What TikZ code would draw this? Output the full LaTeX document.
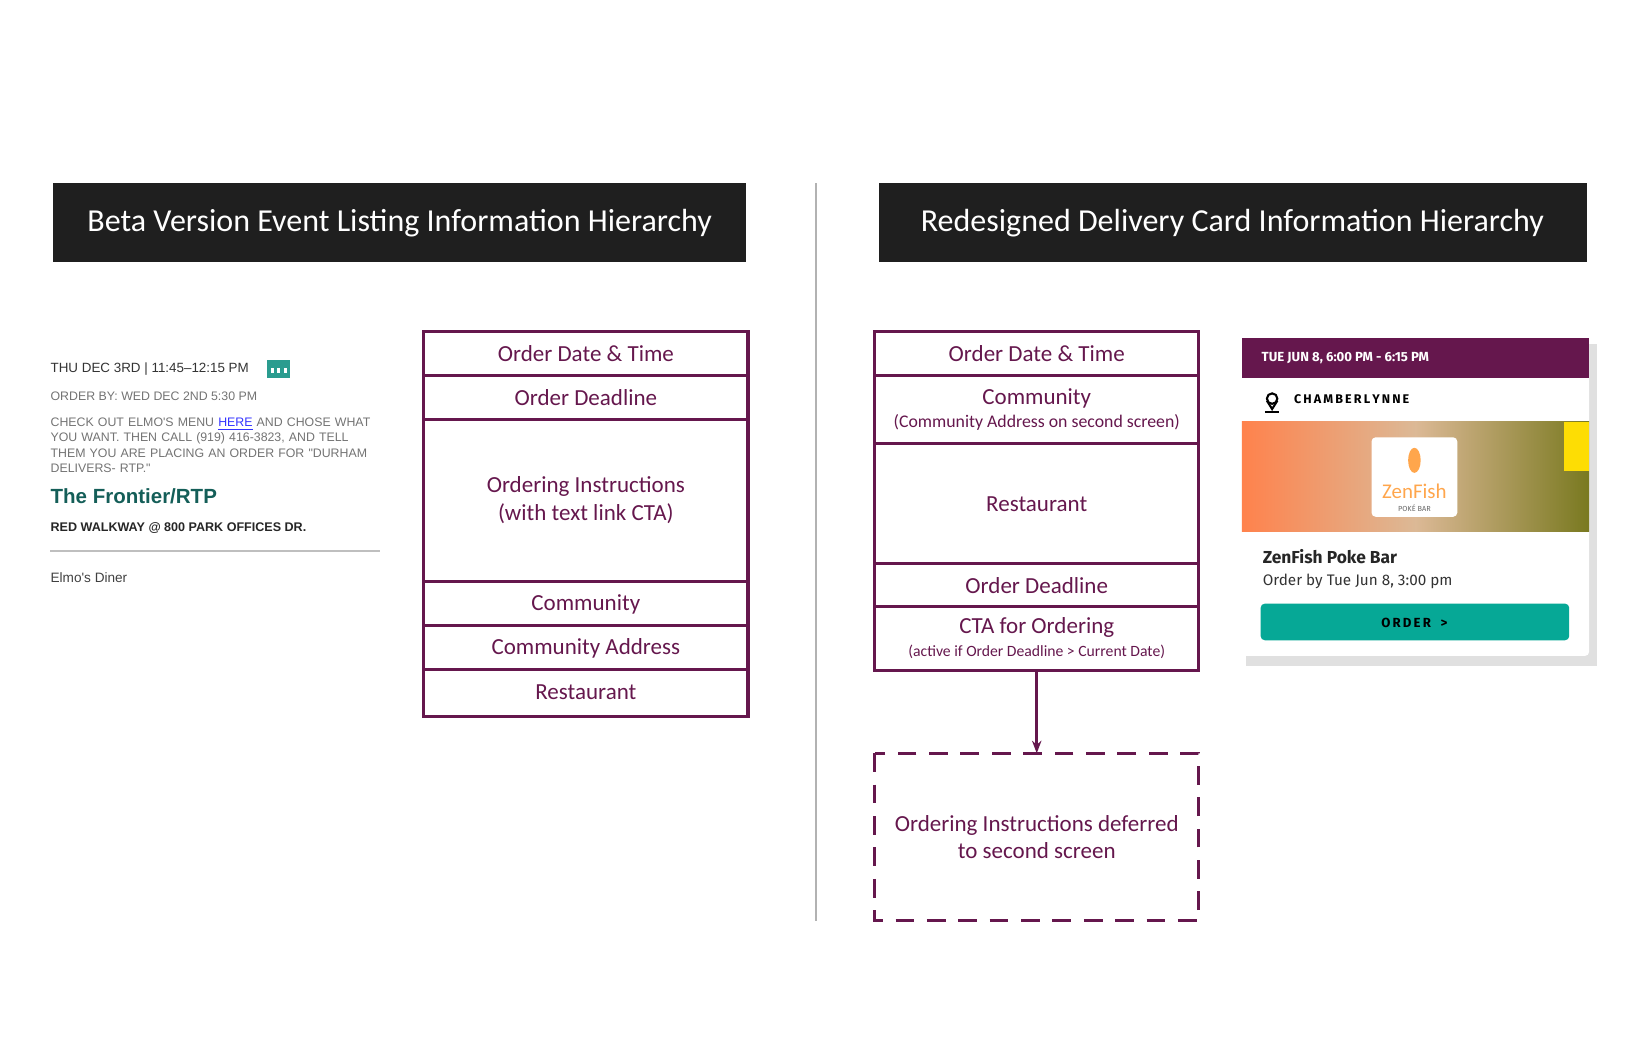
\documentclass[tikz,border=0pt]{standalone}
\usepackage{fontspec}
\setmainfont{Carlito}
\newfontfamily\arialf{Liberation Sans}
\newfontfamily\plexf{Fira Sans}
\usetikzlibrary{arrows.meta}
\definecolor{plum}{HTML}{65174D}
\definecolor{teal1}{HTML}{06A896}
\definecolor{dgreen}{HTML}{145E58}
\begin{document}
\begin{tikzpicture}[x=0.5pt,y=-0.5pt,
  box/.style={draw=plum,line width=1.5pt,text=plum,align=center,font=\fontsize{11}{13}\selectfont},
  title/.style={fill=black!88,text=white,font=\fontsize{15.3}{17}\selectfont},
  lt/.style={anchor=north west,inner sep=0,font=\arialf\fontsize{5.9}{7.3}\selectfont,text=black!55,align=left}]
\useasboundingbox (0,0) rectangle (1560,1009);
% titles
\fill[black!88] (51,175) rectangle (713,250);
\node[title] (t1) at (382,213) {Beta Version Event Listing Information Hierarchy};
\fill[black!88] (840,175) rectangle (1517,250);
\node[title] (t2) at (1178,213) {Redesigned Delivery Card Information Hierarchy};
\draw[black!30,line width=1.2pt] (780,175) -- (780,880);
% left boxes
\draw[box] (405,317) rectangle (715,685);
\foreach \y in {359,401,556,598,640} \draw[draw=plum,line width=1.5pt] (405,\y) -- (715,\y);
\node[box,draw=none] (l1) at (560,338) {Order Date \& Time};
\node[box,draw=none] (l2) at (560,380) {Order Deadline};
\node[box,draw=none] (l3) at (560,478) {Ordering Instructions\\(with text link CTA)};
\node[box,draw=none] (l4) at (560,578) {Community};
\node[box,draw=none] (l5) at (560,620) {Community Address};
\node[box,draw=none] (l6) at (560,662) {Restaurant};
% right boxes
\draw[box] (836,317) rectangle (1146,641);
\foreach \y in {359,424,539,580} \draw[draw=plum,line width=1.5pt] (836,\y) -- (1146,\y);
\node[box,draw=none] (r1) at (991,338) {Order Date \& Time};
\node[box,draw=none] (r2) at (991,391) {Community\\[-2pt]{\fontsize{8.5}{10}\selectfont(Community Address on second screen)}};
\node[box,draw=none] (r3) at (991,482) {Restaurant};
\node[box,draw=none] (r4) at (991,560) {Order Deadline};
\node[box,draw=none] (r5) at (991,610) {CTA for Ordering\\[-2pt]{\fontsize{7.5}{9}\selectfont(active if Order Deadline > Current Date)}};
\coordinate (rb) at (991,641);
\draw[box,dashed,dash pattern=on 9pt off 6pt] (836,720) rectangle (1146,880);
\node[box,draw=none] (d) at (991,800) {Ordering Instructions deferred\\to second screen};
\coordinate (dt) at (991,720);
\draw[plum,line width=1.5pt,-{Stealth[length=6pt]}] (rb) -- (dt);
% left listing
\node[lt,text=black!80,font=\arialf\fontsize{6.4}{8}\selectfont] (a1) at (48,346) {THU DEC 3RD | 11:45–12:15 PM};
\fill[teal1!70!gray] (255,344) rectangle (277,361);
\foreach \xx in {259,265,271} \fill[white] (\xx,352) rectangle +(3,5);
\node[lt] (a2) at (48,374) {ORDER BY: WED DEC 2ND 5:30 PM};
\node[lt,text width=162pt] (a3) at (48,399) {CHECK OUT ELMO'S MENU \textcolor{blue!80}{\underline{HERE}} AND CHOSE WHAT YOU WANT. THEN CALL (919) 416-3823, AND TELL THEM YOU ARE PLACING AN ORDER FOR "DURHAM DELIVERS- RTP."};
\node[lt,text=dgreen,font=\arialf\bfseries\fontsize{9.8}{11}\selectfont] (a4) at (48,467) {The Frontier/RTP};
\node[lt,text=black!85,font=\arialf\bfseries\fontsize{6}{7}\selectfont] (a5) at (48,499) {RED WALKWAY @ 800 PARK OFFICES DR.};
\draw[black!25,line width=1pt] (48,527) -- (363,527);
\node[lt,text=black!75,font=\arialf\fontsize{6.5}{8}\selectfont] (a6) at (48,547) {Elmo's Diner};
% card
\fill[black!12] (1191,329) rectangle (1527,637);
\fill[white,rounded corners=2pt] (1187,323) rectangle (1519,627);
\fill[plum] (1187,323) rectangle (1519,361);
\node[anchor=west,text=white,font=\plexf\bfseries\fontsize{6.3}{7}\selectfont] (c1) at (1199,342) {TUE JUN 8, 6:00 PM - 6:15 PM};
\draw[black,line width=1pt] (1216,381) circle (5);
\draw[black,line width=1pt] (1211,383) -- (1216,391) -- (1221,383);
\draw[black,line width=1pt] (1209,394) -- (1223,394);
\node[anchor=west,font=\plexf\bfseries\fontsize{6}{7}\selectfont] (c2) at (1230,382) {C\,H\,A\,M\,B\,E\,R\,L\,Y\,N\,N\,E};
\shade[left color=red!40!orange!70,right color=olive!50!black!70,middle color=brown!55] (1187,403) rectangle (1519,508);
\fill[yellow!80!orange] (1495,403) rectangle (1519,450);
\fill[white,rounded corners=2pt] (1311,418) rectangle (1393,494);
\fill[orange!70] (1352,440) ellipse (6 and 12);
\node[text=orange!70,font=\fontsize{10}{11}\selectfont] (c3) at (1352,470) {ZenFish};
\node[text=black!60,font=\plexf\fontsize{3.5}{4}\selectfont] (c4) at (1352,486) {POKÉ BAR};
\node[anchor=west,text=black!85,font=\plexf\bfseries\fontsize{8.3}{10}\selectfont] (c5) at (1200,532) {ZenFish Poke Bar};
\node[anchor=west,text=black!80,font=\plexf\fontsize{7.3}{9}\selectfont] (c6) at (1200,556) {Order by Tue Jun 8, 3:00 pm};
\fill[teal1,rounded corners=2pt] (1205,577) rectangle (1500,612);
\node[font=\plexf\bfseries\fontsize{6.3}{7}\selectfont] (c7) at (1352,595) {O\,R\,D\,E\,R \enspace >};
\end{tikzpicture}
\end{document}
